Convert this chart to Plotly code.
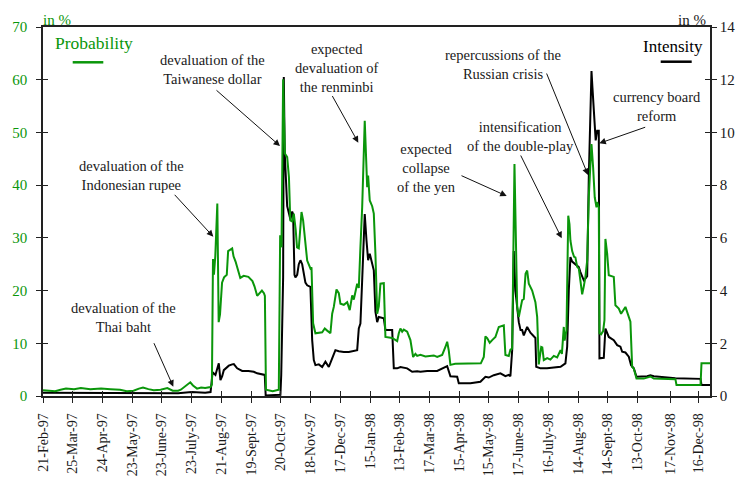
import plotly.graph_objects as go

# ---------------- data ----------------
tick_days = [0, 22, 44, 66, 88, 110, 132, 154, 176, 198, 220, 242, 264, 286,
             308, 330, 352, 374, 396, 418, 440, 464, 485]
tick_labels = ["21-Feb-97", "25-Mar-97", "24-Apr-97", "23-May-97", "23-June-97",
               "23-July-97", "21-Aug-97", "19-Sept-97", "20-Oct-97", "18-Nov-97",
               "17-Dec-97", "15-Jan-98", "13-Feb-98", "17-Mar-98", "15-Apr-98",
               "15-May-98", "17-June-98", "16-July-98", "14-Aug-98", "14-Sept-98",
               "13-Oct-98", "17-Nov-98", "16-Dec-98"]

prob_day = [0, 5, 9, 13, 17, 23, 28, 35, 43, 50, 57, 62, 67, 71, 74, 78, 82, 87, 92, 96,
            100, 102, 105, 109, 111, 114, 117, 120, 124, 125, 125.8, 126.5, 127.5, 129, 130,
            131, 132.5, 134, 136, 137, 140, 141, 142.5, 145, 146, 148.5, 152, 155, 156.5,
            158.5, 160.5, 162, 163.5, 164.2, 165, 170, 174.5, 175.5, 176.5, 177.7, 179,
            180.7, 182, 183, 184.4, 185.6, 187, 188, 189.3, 190.5, 191.3, 192.5, 195.5,
            197.9, 198.7, 199.9, 201.6, 206.6, 208.5, 210.3, 212.7, 214, 215.2, 217.2,
            218.9, 220.1, 222.6, 225.1, 227, 228.8, 230, 232.5, 233.7, 234.9, 236.2, 238.1,
            239.9, 240.6, 241.8, 243.6, 244.8, 246, 247.3, 248.5, 249.7, 252.2, 253.4,
            258.4, 260.8, 262.1, 263.3, 264.5, 265.8, 267, 269.5, 270.7, 271.9, 273.9,
            275.6, 276.9, 279.3, 283, 289.2, 291.7, 295.4, 297.8, 299.1, 300.3, 301.5, 305,
            316, 324, 326.2, 327.4, 328.7, 330.6, 332.4, 334.8, 337.3, 341, 342.2, 344.7,
            345.9, 347.2, 348.9, 350.9, 352.1, 354.6, 355.8, 357.1, 358.3, 359.5, 362,
            364.4, 365.7, 366.9, 368.7, 369.5, 370.6, 373.1, 375.5, 378, 380.5, 383, 384,
            385.4, 386, 387.4, 388.7, 389.6, 390.3, 391.6, 393, 394, 395.3, 396.5, 397.7,
            399, 400.2, 401.4, 402.7, 403.9, 405.1, 405.9, 407.1, 408.3, 409.6, 410.1,
            411.3, 411.8, 413, 414.5, 415.5, 416.2, 417.5, 418.7, 422.4, 423.6, 426.1,
            427.8, 431, 433.5, 434.7, 436, 437.2, 439.2, 444.6, 449.5, 452, 468, 468.8,
            486.6, 487.3, 493.6]
prob_val = [1.1, 1.0, 0.9, 1.2, 1.4, 1.3, 1.5, 1.3, 1.4, 1.3, 1.2, 0.9, 1.0, 1.4, 1.6, 1.3,
            1.1, 1.2, 1.5, 1.0, 1.0, 1.2, 1.8, 2.6, 2.0, 1.4, 1.6, 1.5, 1.7, 2.2, 26.0, 23.0,
            26.5, 36.5, 14.0, 15.5, 21.5, 22.5, 23.0, 27.5, 28.0, 26.5, 25.5, 23.5, 22.4, 22.8,
            22.6, 21.8, 20.8, 19.0, 19.6, 20.0, 19.5, 19.0, 1.2, 0.9, 1.2, 30.5, 28.2, 60.1,
            46.0, 45.3, 41.5, 33.3, 33.1, 34.6, 31.5, 28.2, 28.0, 32.7, 34.9, 33.3, 25.7,
            24.2, 24.4, 13.8, 11.9, 12.1, 12.8, 12.4, 11.9, 15.6, 16.9, 20.2, 19.5, 17.5,
            17.3, 17.8, 16.3, 19.1, 18.3, 21.3, 20.5, 28.2, 35.8, 52.2, 39.6, 41.8, 37.1,
            36.0, 34.6, 27.0, 15.6, 17.0, 21.3, 21.4, 11.2, 11.0, 10.6, 10.4, 11.9, 12.8,
            12.2, 12.6, 12.2, 11.5, 10.6, 7.4, 8.0, 7.6, 7.8, 7.5, 7.7, 7.4, 7.8, 9.3, 10.3,
            8.6, 5.9, 6.1, 6.1, 6.2, 7.4, 11.3, 11.0, 10.1, 10.6, 11.2, 13.1, 13.4, 7.8, 7.6,
            8.8, 9.0, 44.0, 16.9, 15.0, 18.2, 18.4, 23.2, 23.8, 21.3, 20.0, 17.8, 15.0, 6.0,
            9.3, 9.2, 6.8, 7.2, 6.9, 7.6, 7.3, 8.7, 8.0, 13.1, 10.5, 12.5, 34.2, 32.6, 29.5,
            27.5, 26.4, 26.3, 24.5, 24.2, 21.9, 19.3, 20.8, 22.6, 25.7, 37.7, 44.0, 47.8,
            43.4, 37.7, 35.8, 36.8, 35.8, 11.9, 11.7, 12.3, 14.4, 29.8, 27.0, 22.9, 22.6,
            17.2, 16.6, 15.6, 16.9, 15.0, 14.1, 5.5, 5.2, 3.3, 3.3, 3.7, 3.3, 3.2, 2.1, 2.1,
            6.2, 6.2]

int_day = [0, 30, 60, 100, 110, 120, 124, 125.5, 127.6, 129.3, 130.1, 131.3, 132.6, 133.8,
           137.5, 140, 141.2, 143.7, 147.4, 152, 156, 158.5, 160.9, 163.4, 164.1, 164.8,
           175.7, 176.3, 177.7, 178.2, 178.9, 180.7, 183.1, 184.4, 185.1, 186.1, 186.8,
           188.1, 189.3, 190.5, 191.8, 194.2, 195.5, 197.9, 199.2, 200.4, 201.6, 204.1,
           206.6, 209, 211.5, 214, 216.4, 218.9, 222.6, 226.3, 230, 232.5, 233.7, 234.9,
           236.2, 238.1, 239.4, 240.6, 241.8, 243.6, 244.8, 246, 247.3, 248.5, 252.2,
           253.4, 258.4, 259.6, 262.1, 264.5, 269.5, 273.2, 276.9, 279.3, 284.3, 291.7,
           299.1, 301.5, 306.5, 307.7, 316.3, 323.7, 327.4, 329.9, 333.6, 338.5, 342.2,
           344.7, 345.9, 347.2, 348.4, 349.6, 350.9, 352.1, 353.4, 354.6, 355.8, 358.3,
           360.7, 363.2, 364.4, 365, 368.1, 373, 383, 386.6, 387.9, 389.1, 390.3, 391.6,
           394, 396.5, 397.7, 400.2, 401.4, 402.7, 403.9, 405.9, 406.6, 408.1, 409, 410.1,
           411.3, 411.8, 415, 416.2, 418.7, 422.4, 424.9, 427.3, 428.6, 431, 433.5, 435.2,
           437.2, 439.2, 447.1, 449.5, 452, 468, 486.6, 487.3, 493.6]
int_val = [0.12, 0.12, 0.1, 0.1, 0.15, 0.12, 0.15, 0.9, 0.8, 1.1, 1.24, 0.6, 0.75, 0.98,
           1.15, 1.2, 1.21, 1.05, 0.95, 0.95, 0.92, 0.86, 0.83, 0.82, 0.8, 0.02, 0.05, 0.8,
           4.5, 12.1, 9.2, 7.2, 6.7, 7.0, 6.9, 4.6, 4.5, 4.6, 5.0, 5.15, 5.0, 4.3, 4.2, 4.14,
           2.12, 1.36, 1.17, 1.2, 1.1, 1.3, 1.1, 1.43, 1.74, 1.7, 1.67, 1.67, 1.7, 1.74, 2.56,
           2.75, 4.4, 6.9, 5.9, 5.15, 5.4, 5.0, 4.77, 3.2, 2.8, 3.0, 2.95, 2.5, 2.5, 1.05,
           1.05, 1.1, 1.05, 0.92, 0.94, 0.92, 0.95, 0.95, 1.13, 0.75, 0.73, 0.48, 0.48, 0.54,
           0.73, 0.7, 0.79, 0.86, 0.75, 0.8, 0.75, 1.74, 5.5, 4.0, 3.38, 2.8, 2.5, 2.5, 2.3,
           2.62, 2.4, 2.27, 2.2, 1.11, 1.05, 1.05, 1.11, 1.24, 1.87, 4.0, 5.27, 5.1, 5.0,
           4.89, 4.7, 4.39, 4.45, 4.55, 8.3, 12.33, 11.7, 10.2, 9.7, 10.06, 10.06, 1.43,
           1.45, 2.56, 2.24, 2.12, 1.93, 1.87, 1.68, 1.65, 1.49, 1.17, 1.05, 0.73, 0.75,
           0.79, 0.75, 0.67, 0.65, 0.42, 0.42]

# ---------------- style ----------------
GREEN = "#0a960a"
BLACK = "#000000"
TXT = "#1a1a1a"
FONT = "Liberation Serif, Times New Roman, serif"
W, H = 748, 477
ML, MR, MT, MB = 43, 38, 27, 81
PW, PH = W - ML - MR, H - MT - MB
XMAX = 493.6


def px(x):
    return (x - ML) / PW


def py(y):
    return (H - MB - y) / PH


fig = go.Figure()
fig.add_trace(go.Scatter(x=int_day, y=int_val, mode="lines", xaxis="x", yaxis="y",
                         line=dict(color=BLACK, width=2), showlegend=False, hoverinfo="skip"))
fig.add_trace(go.Scatter(x=prob_day, y=prob_val, mode="lines", xaxis="x", yaxis="y2",
                         line=dict(color=GREEN, width=2), showlegend=False, hoverinfo="skip"))
# empty helper traces so the inside-tick axes are drawn
for xa, ya in [("x2", "y"), ("x", "y3"), ("x", "y4")]:
    fig.add_trace(go.Scatter(x=[None], y=[None], xaxis=xa, yaxis=ya, mode="lines",
                             showlegend=False, hoverinfo="skip"))

axis_common = dict(showgrid=False, zeroline=False, ticklen=5, tickwidth=1.2,
                   tickcolor="#222", automargin=False)

fig.update_layout(
    width=W, height=H,
    margin=dict(l=ML, r=MR, t=MT, b=MB, autoexpand=False),
    paper_bgcolor="white", plot_bgcolor="white",
    font=dict(family=FONT, size=15, color=TXT),
    showlegend=False,
    xaxis=dict(range=[0, XMAX], tickmode="array", tickvals=tick_days, ticktext=tick_labels,
               tickangle=-90, ticks="outside", showline=True, linecolor="#222",
               linewidth=1.5, mirror=True, tickfont=dict(size=14, color=TXT),
               ticklabelstandoff=5, anchor="y", **axis_common),
    xaxis2=dict(range=[0, XMAX], overlaying="x", anchor="y", tickmode="array",
                tickvals=tick_days, ticks="inside", showticklabels=False, showline=False,
                **axis_common),
    yaxis=dict(range=[0, 14], side="right", tickmode="linear", tick0=0, dtick=2,
               ticks="outside", showline=True, linecolor="#222", linewidth=1.5,
               tickfont=dict(size=15, color=TXT), anchor="x", **axis_common),
    yaxis2=dict(range=[0, 70], side="left", overlaying="y", anchor="x", tickmode="linear",
                tick0=0, dtick=10, ticks="outside", showline=True, linecolor="#222",
                linewidth=1.5, tickfont=dict(size=15, color=GREEN), ticklabelstandoff=6,
                **axis_common),
    yaxis3=dict(range=[0, 14], side="right", overlaying="y", anchor="x", tickmode="linear",
                tick0=0, dtick=2, ticks="inside", showticklabels=False, showline=False,
                **axis_common),
    yaxis4=dict(range=[0, 70], side="left", overlaying="y", anchor="x", tickmode="linear",
                tick0=0, dtick=10, ticks="inside", showticklabels=False, showline=False,
                **axis_common),
)

annotations = []


def label(text, cx, cy, size, color):
    return dict(x=px(cx), y=py(cy), xref="paper", yref="paper", text=text,
                showarrow=False, align="center", xanchor="center", yanchor="middle",
                font=dict(size=size, color=color))


# unit labels
annotations.append(label("in %", 56.7, 19.5, 15, GREEN))
annotations.append(label("in %", 691.5, 19.5, 15, TXT))
# legend texts
annotations.append(label("Probability", 94, 43.5, 17.5, GREEN))
annotations.append(label("Intensity", 673, 46.5, 17, BLACK))

# event labels: (text, center x, center y)
labels = [
    ("devaluation of the<br>Taiwanese dollar", 212, 69.5),
    ("expected<br>devaluation of<br>the renminbi", 336.5, 68),
    ("devaluation of the<br>Indonesian rupee", 131, 175),
    ("devaluation of the<br>Thai baht", 123.3, 317.3),
    ("expected<br>collapse<br>of the yen", 427, 168),
    ("intensification<br>of the double-play", 520, 136.7),
    ("repercussions of the<br>Russian crisis", 503, 64),
    ("currency board<br>reform", 657, 106),
]
for t, cx, cy in labels:
    annotations.append(label(t, cx, cy, 14.5, TXT))

# arrows: (tail x, tail y, head x, head y)
arrows = [
    (215, 89, 280, 146),
    (331.5, 94.5, 358.3, 142.7),
    (173.3, 193.3, 213.3, 236.7),
    (153.3, 341.7, 173.3, 386.7),
    (460, 175, 506.7, 196),
    (520, 154, 561.7, 238.3),
    (546, 72, 588, 175),
    (646.7, 126.7, 599.3, 143.3),
]
for tx, ty, hx, hy in arrows:
    annotations.append(dict(x=px(hx), y=py(hy), xref="paper", yref="paper", text="",
                            showarrow=True, ax=tx - hx, ay=ty - hy, arrowhead=2,
                            arrowsize=1.3, arrowwidth=1, arrowcolor="#111", standoff=0))

fig.update_layout(annotations=annotations)

# legend line samples
fig.add_shape(type="line", xref="paper", yref="paper", x0=px(72.7), x1=px(103.3),
              y0=py(62.3), y1=py(62.3), line=dict(color=GREEN, width=2.5))
fig.add_shape(type="line", xref="paper", yref="paper", x0=px(660.7), x1=px(691.7),
              y0=py(61.7), y1=py(61.7), line=dict(color=BLACK, width=2.5))

fig.write_html("out.html", config={"displayModeBar": False},
               post_script="document.body.style.margin='0px';document.body.style.overflow='hidden';")
